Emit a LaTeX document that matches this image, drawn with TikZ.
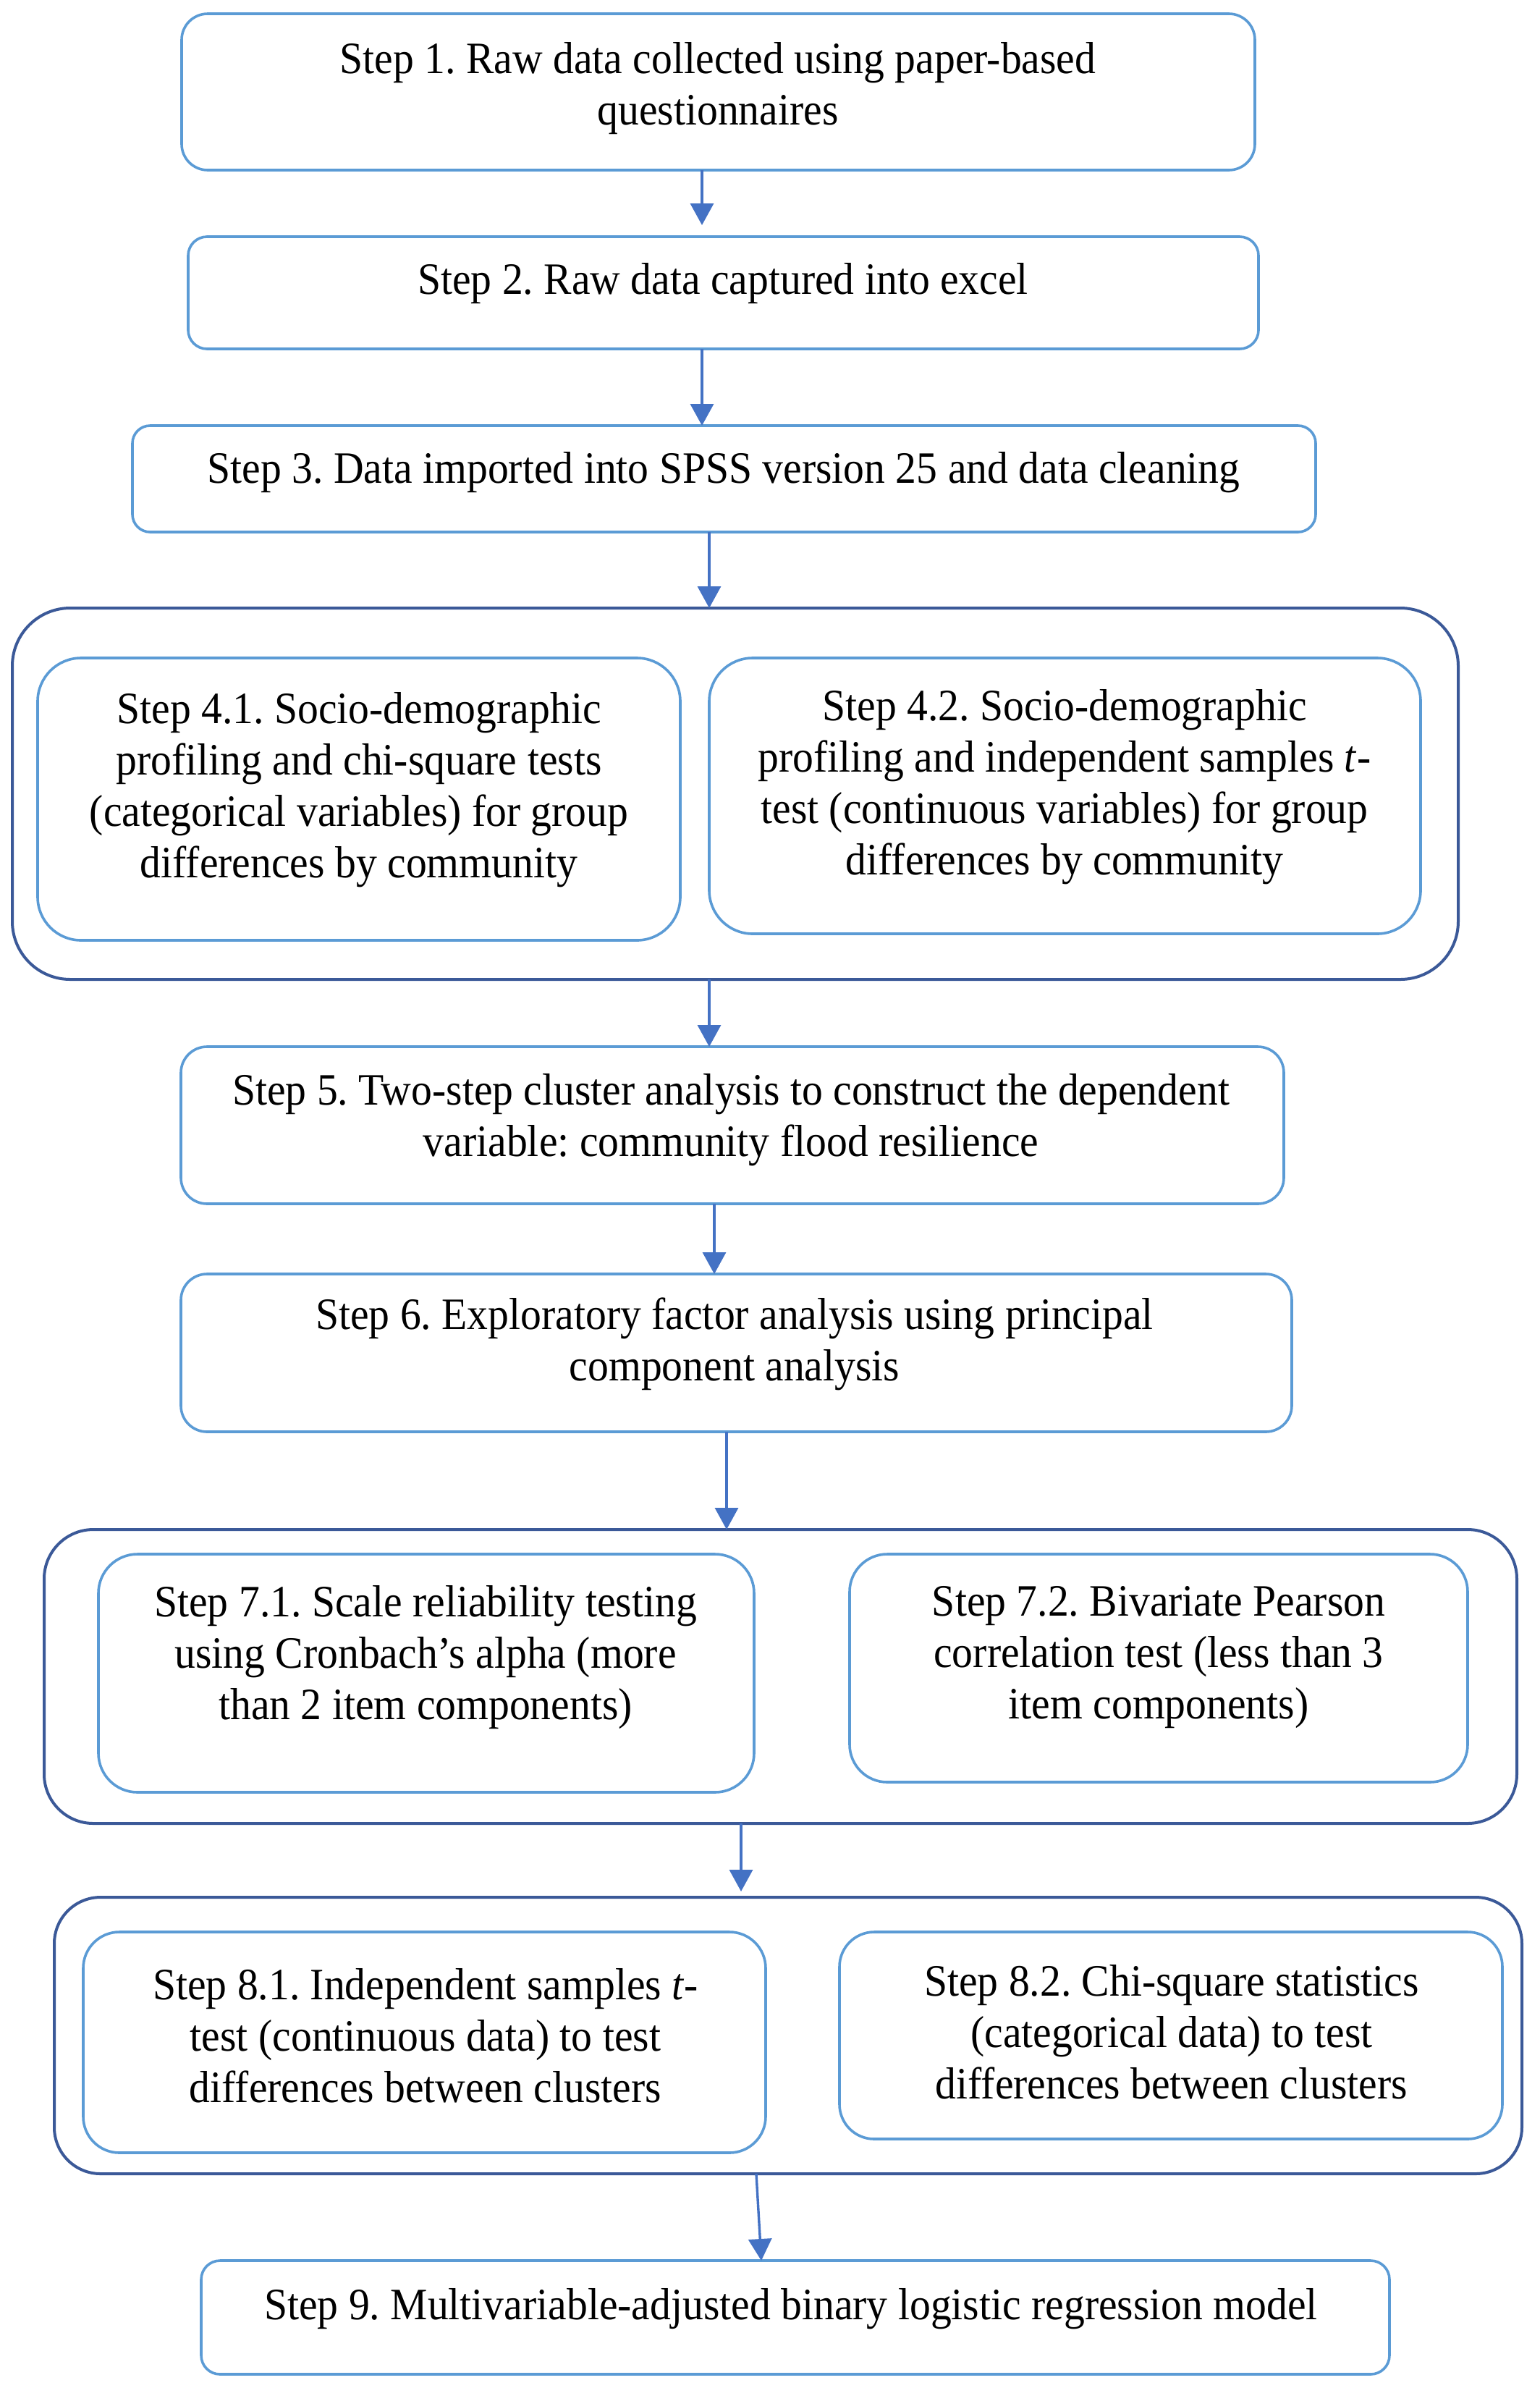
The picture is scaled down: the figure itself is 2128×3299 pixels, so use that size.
\documentclass[tikz,border=0pt]{standalone}
\usepackage{fontspec}
\setmainfont{Liberation Serif}[FakeStretch=0.93]
\usetikzlibrary{arrows.meta,fit}
\definecolor{lblue}{HTML}{5B9BD5}
\definecolor{dblue}{HTML}{3B5998}
\definecolor{arrblue}{HTML}{4472C4}
\begin{document}
\frenchspacing
\begin{tikzpicture}[x=0.25pt,y=-0.25pt,
  lbox/.style={draw=lblue, line width=0.9pt, fill=none, inner sep=0pt, outer sep=0pt},
  gbox/.style={draw=dblue, line width=1pt, fill=none, inner sep=0pt, outer sep=0pt},
  txt/.style={align=center, inner sep=0pt, font=\fontsize{15.5pt}{17.75pt}\selectfont\frenchspacing},
  arr/.style={draw=arrblue, line width=0.85pt, -{Triangle[width=8pt,length=7.5pt]}}]
\useasboundingbox (0,0) rectangle (2128,3299);
% groups
\node[gbox, rounded corners=20pt, fit={(17,840) (2015,1353)}] (g4) {};
\node[gbox, rounded corners=17pt, fit={(61,2113) (2096,2519)}] (g7) {};
\node[gbox, rounded corners=16pt, fit={(75,2621) (2103,3003)}] (g8) {};
% boxes
\node[lbox, rounded corners=9pt, fit={(251,19) (1734,235)}] (b1) {};
\node[lbox, rounded corners=6.5pt, fit={(260,327) (1739,482)}] (b2) {};
\node[lbox, rounded corners=6.1pt, fit={(183,588) (1818,735)}] (b3) {};
\node[lbox, rounded corners=15pt, fit={(52,909) (940,1299)}] (b41) {};
\node[lbox, rounded corners=15pt, fit={(980,909) (1963,1290)}] (b42) {};
\node[lbox, rounded corners=9pt, fit={(250,1446) (1774,1663)}] (b5) {};
\node[lbox, rounded corners=9pt, fit={(250,1760) (1785,1978)}] (b6) {};
\node[lbox, rounded corners=13.5pt, fit={(136,2147) (1042,2476)}] (b71) {};
\node[lbox, rounded corners=13pt, fit={(1174,2147) (2028,2462)}] (b72) {};
\node[lbox, rounded corners=12.5pt, fit={(115,2669) (1058,2974)}] (b81) {};
\node[lbox, rounded corners=12pt, fit={(1160,2669) (2076,2955)}] (b82) {};
\node[lbox, rounded corners=6.5pt, fit={(278,3123) (1920,3280)}] (b9) {};
% texts
\node[txt] (t1) at (992,122) {Step 1. Raw data collected using paper-based\\questionnaires};
\node[txt] (t2) at (999,392) {Step 2. Raw data captured into excel};
\node[txt] (t3) at (1000,653) {Step 3. Data imported into SPSS version 25 and data cleaning};
\node[txt] (t41) at (496,1091) {Step 4.1. Socio-demographic\\profiling and chi-square tests\\(categorical variables) for group\\differences by community};
\node[txt] (t42) at (1471,1087) {Step 4.2. Socio-demographic\\profiling and independent samples \textit{t}-\\test (continuous variables) for group\\differences by community};
\node[txt] (t5) at (1010,1547) {Step 5. Two-step cluster analysis to construct the dependent\\variable: community flood resilience};
\node[txt] (t6) at (1015,1857) {Step 6. Exploratory factor analysis using principal\\component analysis};
\node[txt] (t71) at (588,2290) {Step 7.1. Scale reliability testing\\using Cronbach’s alpha (more\\than 2 item components)};
\node[txt] (t72) at (1601,2290) {Step 7.2. Bivariate Pearson\\correlation test (less than 3\\item components)};
\node[txt] (t81) at (588,2812) {Step 8.1. Independent samples \textit{t}-\\test (continuous data) to test\\differences between clusters};
\node[txt] (t82) at (1619,2807) {Step 8.2. Chi-square statistics\\(categorical data) to test\\differences between clusters};
\node[txt] (t9) at (1093,3190) {Step 9. Multivariable-adjusted binary logistic regression model};
% arrow columns
\coordinate (x12) at (970,0);
\coordinate (x34) at (980,0);
\coordinate (x56) at (987,0);
\coordinate (x67) at (1004,0);
\coordinate (x78) at (1024,0);
\coordinate (x89a) at (1045,0);
\coordinate (x89b) at (1052,0);
\draw[arr, shorten >=4pt] (b1.south -| x12) -- (b2.north -| x12);
\draw[arr] (b2.south -| x12) -- (b3.north -| x12);
\draw[arr] (b3.south -| x34) -- (g4.north -| x34);
\draw[arr] (g4.south -| x34) -- (b5.north -| x34);
\draw[arr] (b5.south -| x56) -- (b6.north -| x56);
\draw[arr] (b6.south -| x67) -- (g7.north -| x67);
\draw[arr, shorten >=2pt] (g7.south -| x78) -- (g8.north -| x78);
\draw[arr] (g8.south -| x89a) -- (b9.north -| x89b);
\end{tikzpicture}
\end{document}
